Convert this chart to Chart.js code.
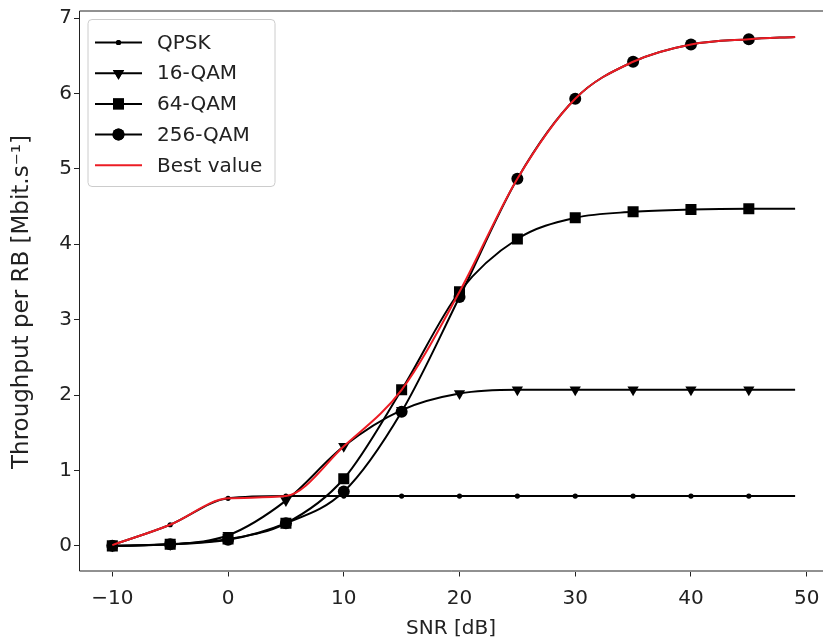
<!DOCTYPE html>
<html><head><meta charset="utf-8">
<script src="https://cdn.jsdelivr.net/npm/chart.js@4.4.0/dist/chart.umd.min.js"></script>
<style>
html,body{margin:0;padding:0;overflow:hidden;background:#fff}
#c{display:block;width:823px;height:639px}
</style></head>
<body><canvas id="c" width="823" height="639"></canvas>
<script>
// ---- data ----
const snr    = [-10, -5, 0, 5, 10, 15, 20, 25, 30, 35, 40, 45, 49];
const qpsk   = [0.01, 0.28, 0.63, 0.66, 0.66, 0.66, 0.66, 0.66, 0.66, 0.66, 0.66, 0.66, 0.66];
const qam16  = [0.00, 0.02, 0.14, 0.60, 1.32, 1.80, 2.02, 2.07, 2.07, 2.07, 2.07, 2.07, 2.07];
const qam64  = [0.00, 0.02, 0.09, 0.30, 0.89, 2.07, 3.37, 4.07, 4.35, 4.43, 4.46, 4.47, 4.47];
const qam256 = [0.00, 0.02, 0.08, 0.30, 0.72, 1.78, 3.30, 4.87, 5.93, 6.42, 6.65, 6.72, 6.75];
const best   = [0.01, 0.28, 0.63, 0.66, 1.32, 2.07, 3.37, 4.87, 5.93, 6.42, 6.65, 6.72, 6.75];
const xTicks = [-10, 0, 10, 20, 30, 40, 50];
const yTicks = [0, 1, 2, 3, 4, 5, 6, 7];
const seriesNames = ['QPSK', '16-QAM', '64-QAM', '256-QAM', 'Best value'];
const xTitle = 'SNR [dB]';
const yTitle = 'Throughput per RB [Mbit.s\u207B\u00B9]';

const FONT = "'DejaVu Sans', 'Liberation Sans', sans-serif";
const FS = 20;
const TXT = '#222';
const RED = '#ec1c24';

const pts = (ys) => snr.map((x, i) => ({x, y: ys[i]}));
// last point only extends the line (no marker), like the reference
const rad = (r) => (ctx) => (ctx.dataIndex === snr.length - 1 ? 0 : r);

function ds(label, ys, style, r, order, color, rot) {
  return {
    label, data: pts(ys), borderColor: color, backgroundColor: color,
    borderWidth: 2, pointStyle: style, pointRadius: rad(r), pointRotation: rot || 0,
    pointBorderWidth: 0, pointBackgroundColor: color,
    cubicInterpolationMode: 'monotone', order, _r: r
  };
}

const datasets = [
  ds(seriesNames[0], qpsk, 'circle', 2.6, 4, '#000'),
  ds(seriesNames[1], qam16, 'triangle', 6.5, 3, '#000', 180),
  ds(seriesNames[2], qam64, 'rect', 7.8, 2, '#000'),
  ds(seriesNames[3], qam256, 'circle', 6, 1, '#000'),
  Object.assign(ds(seriesNames[4], best, false, 0, 0, RED), {pointRadius: 0})
];

const frameAndLegend = {
  id: 'frameAndLegend',
  afterDraw(chart) {
    const {ctx, chartArea: a} = chart;
    ctx.save();
    // frame: the right spine lies just outside the picture in the reference
    ctx.strokeStyle = TXT; ctx.lineWidth = 1;
    ctx.beginPath();
    ctx.moveTo(a.right + 2, a.top + 0.5); ctx.lineTo(a.left + 0.5, a.top + 0.5);
    ctx.lineTo(a.left + 0.5, a.bottom - 0.5); ctx.lineTo(a.right + 2, a.bottom - 0.5);
    ctx.stroke();
    // y axis title
    ctx.save();
    ctx.translate(22, (a.top + a.bottom) / 2 + 11);
    ctx.rotate(-Math.PI / 2);
    ctx.font = '23px ' + FONT; ctx.fillStyle = TXT;
    ctx.textAlign = 'center'; ctx.textBaseline = 'middle';
    ctx.fillText(yTitle, 0, 0);
    ctx.restore();
    // legend box
    const bx = a.left + 9, by = a.top + 9, bw = 187, bh = 167;
    ctx.beginPath();
    ctx.roundRect(bx, by, bw, bh, 4);
    ctx.fillStyle = 'rgba(255,255,255,0.8)'; ctx.fill();
    ctx.strokeStyle = '#cccccc'; ctx.stroke();
    ctx.font = FS + 'px ' + FONT; ctx.textBaseline = 'middle'; ctx.fillStyle = TXT;
    const x0 = bx + 7, x1 = bx + 54, xm = (x0 + x1) / 2;
    chart.data.datasets.forEach((d, i) => {
      const y = by + 23 + i * 30.7;
      ctx.strokeStyle = d.borderColor; ctx.lineWidth = 2;
      ctx.beginPath(); ctx.moveTo(x0, y); ctx.lineTo(x1, y); ctx.stroke();
      if (d.pointStyle) {
        ctx.fillStyle = d.borderColor;
        Chart.helpers.drawPoint(ctx, {pointStyle: d.pointStyle, radius: d._r, rotation: d.pointRotation, borderWidth: 0}, xm, y);
        ctx.fill();
      }
      ctx.fillStyle = TXT;
      ctx.fillText(d.label, bx + 69, y + 1);
    });
    ctx.restore();
  }
};

new Chart(document.getElementById('c'), {
  type: 'line',
  data: {datasets},
  plugins: [frameAndLegend],
  options: {
    responsive: false, maintainAspectRatio: false, animation: false, events: [],
    devicePixelRatio: 1,
    layout: {autoPadding: false, padding: {top: 10.5, right: 0, left: 0, bottom: 0}},
    plugins: {legend: {display: false}, tooltip: {enabled: false}},
    scales: {
      x: {
        type: 'linear', min: -12.88, max: 51.41,
        afterBuildTicks: (s) => { s.ticks = xTicks.map(v => ({value: v})); },
        afterFit: (s) => { s.height = 67.5; s.paddingLeft = 0; s.paddingRight = 0; },
        ticks: {font: {family: FONT, size: FS}, color: TXT, padding: 10, maxRotation: 0,
          callback: (v) => String(v).replace('-', '\u2212')},
        grid: {drawOnChartArea: false, drawTicks: true, tickLength: 5, tickColor: TXT},
        border: {display: false},
        title: {display: true, text: xTitle, font: {family: FONT, size: FS}, color: TXT, padding: {top: 0, bottom: -2}}
      },
      y: {
        type: 'linear', min: -0.34, max: 7.1,
        afterBuildTicks: (s) => { s.ticks = yTicks.map(v => ({value: v})); },
        afterFit: (s) => { s.width = 79; s.paddingTop = 0; s.paddingBottom = 0; },
        ticks: {font: {family: FONT, size: FS}, color: TXT, padding: 2},
        grid: {drawOnChartArea: false, drawTicks: true, tickLength: 5, tickColor: TXT},
        border: {display: false},
        title: {display: false}
      }
    }
  }
});
</script>
</body></html>
